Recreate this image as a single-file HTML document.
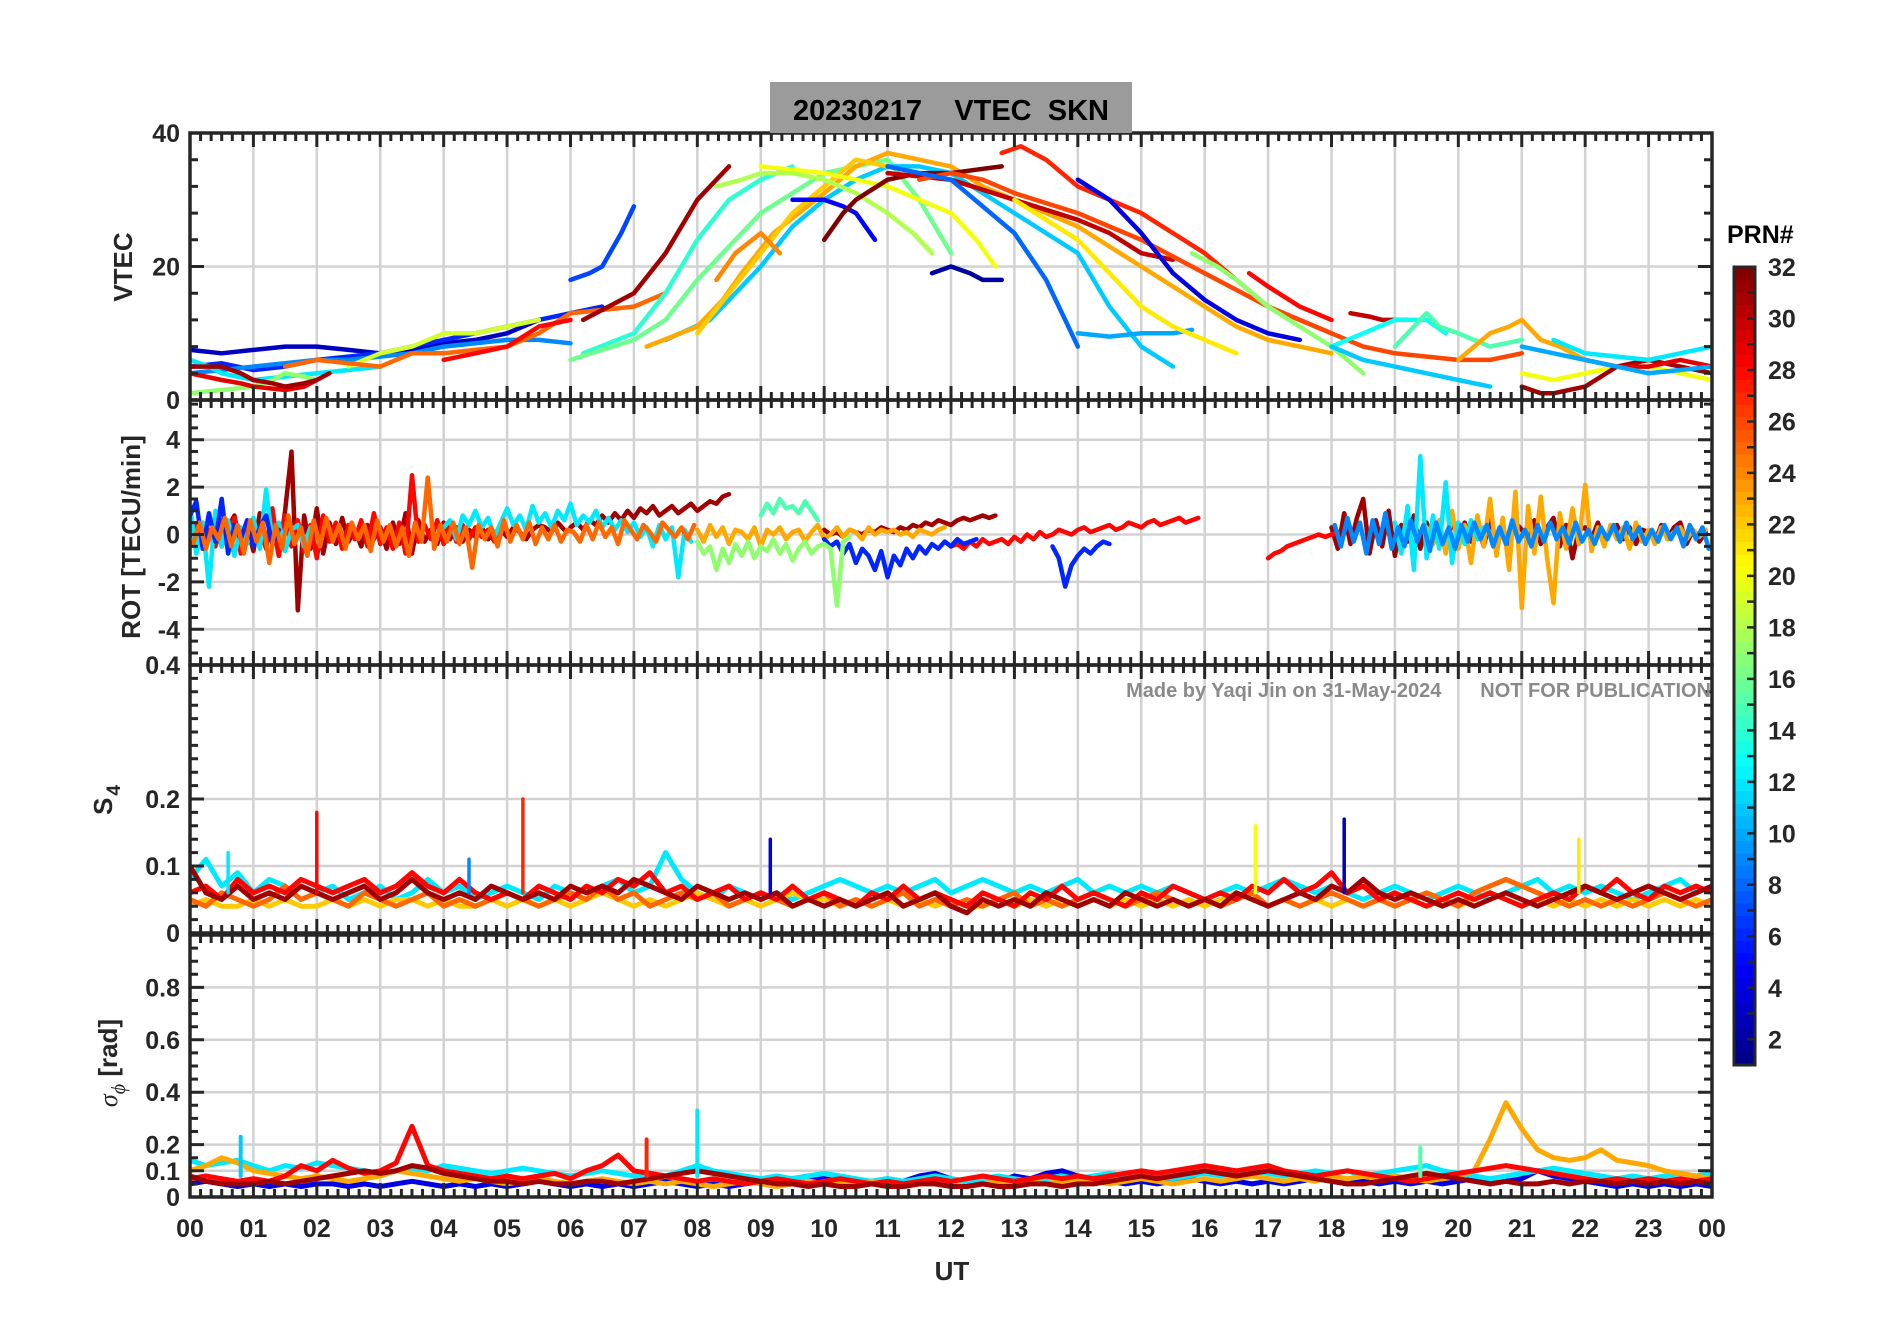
<!DOCTYPE html>
<html><head><meta charset="utf-8">
<style>
html,body{margin:0;padding:0;background:#fff;}
svg{display:block;font-family:"Liberation Sans",sans-serif;}
</style></head>
<body>
<svg id="chart" width="1902" height="1330" viewBox="0 0 1902 1330" xmlns="http://www.w3.org/2000/svg">
<rect x="0" y="0" width="1902" height="1330" fill="#fff"/>
<defs>
<clipPath id="c0"><rect x="190" y="133" width="1522" height="267"/></clipPath>
<clipPath id="c1"><rect x="190" y="400" width="1522" height="265"/></clipPath>
<clipPath id="c2"><rect x="190" y="665" width="1522" height="268"/></clipPath>
<clipPath id="c3"><rect x="190" y="935" width="1522" height="262"/></clipPath>
</defs>
<g id="grid"></g>
<g id="marks"></g>
<g id="axes"></g>
<rect x="770" y="82" width="362" height="51" fill="#9b9b9b"/>
<text x="951" y="120" text-anchor="middle" font-size="29" font-weight="bold" fill="#000" xml:space="preserve">20230217    VTEC  SKN</text>
<text x="1711" y="697" text-anchor="end" font-size="20" font-weight="bold" fill="#8a8a8a" xml:space="preserve">Made by Yaqi Jin on 31-May-2024       NOT FOR PUBLICATION</text>
<text x="952" y="1280" text-anchor="middle" font-size="26" font-weight="bold" fill="#262626">UT</text>
<text transform="translate(132,267) rotate(-90)" text-anchor="middle" font-size="26" font-weight="bold" fill="#262626">VTEC</text>
<text transform="translate(140,537) rotate(-90)" text-anchor="middle" font-size="26" font-weight="bold" fill="#262626">ROT [TECU/min]</text>
<text transform="translate(112,800) rotate(-90)" text-anchor="middle" font-size="26" font-weight="bold" fill="#262626">S<tspan font-size="19" dy="8" dx="2">4</tspan></text>
<text transform="translate(117,1063) rotate(-90)" text-anchor="middle" font-size="26" font-weight="bold" fill="#262626"><tspan font-family="Liberation Serif" font-style="italic" font-weight="normal">σ</tspan><tspan font-family="Liberation Serif" font-style="italic" font-weight="normal" font-size="20" dy="8">ϕ</tspan><tspan dy="-8"> [rad]</tspan></text>
<text x="1727" y="243" font-size="25" font-weight="bold" fill="#000">PRN#</text>
<g id="colorbar"></g>
</svg>
<script>
// ---------------- DATA ----------------
const xTickLabels = ["00","01","02","03","04","05","06","07","08","09","10","11","12","13","14","15","16","17","18","19","20","21","22","23","00"];
const vtecTicks = [0,20,40];
const rotTicks = [-4,-2,0,2,4];
const s4Ticks = [0,0.1,0.2,0.4];
const sigTicks = [0,0.1,0.2,0.4,0.6,0.8];
const prnTicks = [2,4,6,8,10,12,14,16,18,20,22,24,26,28,30,32];

// VTEC arcs: PRN list and [hour, VTEC] points
const vtecPrn = [3,6,9,12,17,19,29,31,25,28,7,31,14,16,11,23,22,24,20,18,5,32,2,30,27,26,8,4,10,21,17,28,30,13,11,15,23,20,31,29,10,12];
const vtecArcs = [
 [[0,7.5],[0.5,7],[1,7.5],[1.5,8],[2,8],[2.5,7.5],[3,7],[3.5,7.5],[4,8.5],[4.5,9],[5,10],[5.5,12]],
 [[0,5],[0.5,5.5],[1,4.5],[1.5,5],[2,6],[2.5,6.5],[3,7],[3.5,8],[4,9],[4.5,10],[5,11],[5.5,12],[6,13],[6.5,14]],
 [[0,4],[0.5,4.5],[1,5],[1.5,5.5],[2,6],[2.5,6],[3,6.5],[3.5,7],[4,8],[4.5,8.5],[5,9],[5.5,9],[6,8.5]],
 [[0,6],[0.3,5],[0.5,4],[1,3],[1.5,3.5],[2,4],[2.5,4.5],[3,5]],
 [[0,1],[0.5,1.5],[1,2],[1.3,3],[1.5,4],[1.8,3.5],[2,3]],
 [[2.5,5],[3,7],[3.5,8],[4,10],[4.5,10],[5,11],[5.5,12]],
 [[0,4],[0.5,3],[0.8,2.5],[1,2],[1.5,1.5],[1.8,2],[2,3]],
 [[0,5],[0.5,5],[0.8,4],[1,3],[1.3,2.5],[1.5,2],[1.8,2.5],[2,3],[2.2,4]],
 [[1.5,5],[2,6],[2.5,5.5],[3,5],[3.5,7],[4,7],[4.5,7.5],[5,8],[5.5,10],[6,13],[6.5,13.5],[7,14],[7.5,16]],
 [[4,6],[4.5,7],[5,8],[5.5,11],[6,12]],
 [[6,18],[6.3,19],[6.5,20],[6.8,25],[7,29]],
 [[6.2,12],[6.6,14],[7,16],[7.5,22],[8,30],[8.5,35]],
 [[6.2,7],[6.6,8.5],[7,10],[7.5,16],[8,24],[8.5,30],[9,33],[9.5,35]],
 [[6,6],[6.5,7.5],[7,9],[7.5,12],[8,18],[8.5,23],[9,28],[9.5,31],[10,34],[10.5,35],[11,36],[11.5,30],[12,22]],
 [[7.5,9],[8.2,12],[8.6,16],[9,20],[9.5,26],[10,30],[10.5,33],[11,35],[11.5,35],[12,34],[12.5,31],[13,28],[13.5,25],[14,22],[14.5,14],[15,8],[15.5,5]],
 [[7.2,8],[7.6,9.5],[8,11],[8.4,15],[8.7,19],[9.2,25],[9.6,28],[10,31],[10.5,35],[11,37],[11.5,36],[12,35],[12.5,32],[13,30],[13.5,28],[14,26],[14.5,23],[15,20],[15.5,17],[16,14],[16.5,11],[17,9],[17.5,8],[18,7]],
 [[8,10],[8.5,16],[9,22],[9.5,28],[10,32],[10.5,36],[11,35]],
 [[8.3,18],[8.6,22],[9,25],[9.3,22]],
 [[9,35],[9.5,34.5],[10,34],[10.5,33],[11,32],[11.5,30],[12,28],[12.4,24],[12.7,20]],
 [[8.3,32],[8.7,33],[9,34],[9.5,34],[10,33],[10.5,31],[11,28],[11.4,25],[11.7,22]],
 [[9.5,30],[10,30],[10.3,29],[10.5,28],[10.8,24]],
 [[10,24],[10.3,28],[10.5,30],[11,33],[11.5,34],[12,34],[12.4,34.5],[12.8,35]],
 [[11.7,19],[12,20],[12.3,19],[12.5,18],[12.8,18]],
 [[11,34],[11.5,33.5],[12,33],[12.5,31.5],[13,30],[13.5,28.5],[14,27],[14.5,25],[15,22],[15.5,21]],
 [[12.8,37],[13.1,38],[13.5,36],[14,32],[14.5,30],[15,28],[15.5,25],[16,22],[16.5,18],[17,14],[17.5,12],[18,10]],
 [[11.5,33],[12,34],[12.5,33],[13,31],[13.5,29.5],[14,28],[14.5,26],[15,24],[15.5,21.5],[16,19],[16.5,16.5],[17,14],[17.5,12],[18,10],[18.5,8],[19,7],[19.5,6.5],[20,6],[20.5,6],[21,7]],
 [[11,35],[11.5,34],[12,33],[12.5,29],[13,25],[13.5,18],[13.8,12],[14,8]],
 [[14,33],[14.5,30],[15,25],[15.5,19],[16,15],[16.5,12],[17,10],[17.5,9]],
 [[14,10],[14.5,9.5],[15,10],[15.5,10],[15.8,10.5]],
 [[13,30],[13.5,27],[14,24],[14.5,19],[15,14],[15.5,11],[16,9],[16.5,7]],
 [[15.8,22],[16.2,20],[16.5,18],[17,14],[17.5,11],[18,8],[18.5,4]],
 [[16.7,19],[17,17],[17.5,14],[18,12]],
 [[18.3,13],[18.6,12.5],[18.8,12],[19.2,12]],
 [[18,8],[18.5,10],[19,12],[19.5,12],[19.8,10]],
 [[18,8],[18.5,6],[19,5],[19.5,4],[20,3],[20.5,2]],
 [[19,8],[19.3,11],[19.5,13],[19.7,11],[20,10],[20.5,8],[21,9]],
 [[20,6],[20.5,10],[20.8,11],[21,12],[21.3,9],[21.6,8],[22,6]],
 [[21,4],[21.5,3],[22,4],[22.5,5],[23,5],[23.5,4],[24,3]],
 [[21,2],[21.3,1],[21.5,1],[22,2],[22.5,5],[23,6],[23.5,5],[24,4]],
 [[22,6],[22.5,5],[23,5],[23.5,6],[24,5]],
 [[21,8],[21.5,7],[22,6],[22.5,5],[23,4],[23.5,4.5],[24,5]],
 [[21.5,9],[22,7],[22.5,6.5],[23,6],[23.5,7],[24,8]]
];

// ROT segments: PRN, start hour, step 0.1 h values
const rotPrn = [31,31,31,31,28,28,28,23,23,12,12,12,6,6,6,17,15,25,9];
const rotStart = [0,6,10,18,0,12,17,8,19.5,0,4,19,10,13.6,0,8,9,0.05,18.05];
const rotVals = [
 [0.2,-0.3,0.5,-0.2,0.6,-0.5,0.3,0.8,-0.6,0.4,-0.7,0.9,-0.4,0.6,-0.9,1.0,3.5,-3.2,0.8,-0.6,1.1,-0.8,0.5,-0.4,0.7,-0.3,0.2,-0.5,0.4,-0.2,0.3,-0.6,0.5,-0.4,0.9,-0.8,0.6,-0.3,0.2,-0.4,0.5,-0.2,0.3,-0.3,0.2,-0.1,0.3,-0.2,0.1,0.2,-0.1,0.3,0.1,-0.2,0.2,0.4,0.3,0.1,0.5,0.2],
 [0.3,0.5,0.2,0.6,0.4,0.8,0.5,0.9,0.6,1.0,0.7,1.1,0.9,1.2,0.8,1.0,1.2,0.9,1.1,1.3,1.0,1.2,1.4,1.3,1.6,1.7],
 [0.2,0.0,0.1,-0.1,0.2,0.1,0.0,0.2,0.1,0.3,0.2,0.1,0.3,0.2,0.4,0.3,0.5,0.4,0.6,0.5,0.4,0.6,0.7,0.6,0.7,0.8,0.7,0.8],
 [0.3,-0.6,0.9,-0.4,0.7,1.5,-0.8,0.6,-0.5,1.0,-0.9,0.4,-0.3,0.8,-0.6,0.5,-0.4,0.3,-0.7,0.6,-0.2,0.5,-0.3,0.4,-0.5,0.6,-0.2,0.3,-0.4,0.5,0.2,-0.3,0.6,-0.4,0.3,0.7,-0.5,0.4,-1.0,0.2,0.3,-0.2,0.5,-0.3,0.2,0.4,-0.2,0.3,-0.4,0.2,0.1,-0.3,0.4,-0.2,0.3,0.5,-0.4,0.2,-0.3,0.1],
 [0.1,0.4,-0.3,0.2,-0.5,0.6,-0.2,0.7,-0.8,0.5,-0.4,0.3,-0.6,1.1,-0.9,0.8,-0.5,0.6,-0.7,0.4,-1.0,0.8,-0.3,0.5,-0.6,0.4,-0.2,0.6,-0.5,0.9,-0.4,0.3,-0.6,0.5,-0.8,2.5,-0.3,0.4,-0.2,0.6,-0.4,0.5,-0.3,0.4,-0.2,0.3,-0.1,0.2,-0.3,0.4],
 [-0.5,-0.4,-0.6,-0.3,-0.5,-0.2,-0.4,-0.3,-0.2,-0.4,-0.1,-0.3,0.0,-0.2,0.1,-0.1,0.0,0.2,0.1,0.0,0.2,0.3,0.1,0.2,0.3,0.4,0.2,0.3,0.5,0.4,0.3,0.5,0.6,0.4,0.5,0.6,0.7,0.5,0.6,0.7],
 [-1.0,-0.8,-0.7,-0.5,-0.4,-0.3,-0.2,-0.1,0.0,-0.1,0.0,0.1],
 [0.2,-0.3,0.4,-0.1,0.3,-0.4,0.2,0.1,-0.2,0.3,-0.5,0.2,0.0,0.3,-0.2,0.1,0.2,-0.3,0.1,0.4,-0.2,0.0,0.3,-0.1,0.2,0.1,-0.2,0.3,0.0,0.2,0.1,0.2,0.0,0.1,-0.1,0.2,0.1,0.0,0.2,0.3],
 [0.3,-0.4,0.6,-0.8,1.0,-0.6,0.4,-1.2,0.8,-0.5,1.5,-0.9,0.7,-1.5,1.8,-3.1,1.2,-0.8,1.6,-1.0,-2.9,0.9,-0.6,1.1,-0.4,2.1,-0.7,0.3,-0.5,0.4,-0.2,0.3,-0.6,0.5,-0.3,0.2,-0.4,0.3,-0.2,0.1,0.3,-0.2,0.2,-0.1,0.2],
 [1.2,-0.8,0.5,-2.2,1.0,-0.5,0.6,-0.9,0.3,-0.4,0.7,-0.6,1.9,-0.3,0.5,-0.7,0.2,0.4,-0.5,0.3],
 [0.3,0.6,-0.2,0.8,0.4,1.0,0.3,0.7,-0.1,0.5,1.1,0.4,0.8,0.2,1.2,0.5,0.9,0.3,1.0,0.6,1.3,0.4,0.8,0.5,1.0,0.3,0.7,0.2,0.6,0.1,0.5,-0.1,0.3,-0.5,0.4,-0.2,0.3,-1.8,0.2,-0.3],
 [0.5,-0.8,1.2,-1.5,3.3,-1.0,0.8,-0.6,2.2,-1.2,0.5,-0.4,0.6,-0.2,0.3],
 [-0.2,-0.5,-0.3,-0.8,-0.4,-1.2,-0.6,-0.9,-1.5,-0.7,-1.8,-0.9,-1.3,-0.6,-1.0,-0.5,-0.8,-0.4,-0.6,-0.3,-0.5,-0.2,-0.4,-0.3,-0.2],
 [-0.5,-1.0,-2.2,-1.3,-0.9,-0.6,-0.8,-0.5,-0.3,-0.4],
 [0.8,1.4,-0.6,0.9,-0.3,1.5,-0.8,0.4,-0.2,0.6,-0.5,0.3,0.8,-0.4,0.2],
 [-0.3,-0.8,-0.5,-1.5,-0.6,-1.2,-0.4,-0.9,-0.3,-1.0,-0.5,-0.7,-0.2,-0.8,-0.4,-1.1,-0.6,-0.3,-0.8,-0.5,-0.4,-0.6,-3.0,-0.3,-0.1],
 [0.8,1.3,0.9,1.5,1.1,1.2,0.9,1.4,1.0,0.6],
 [-0.4,0.5,-0.6,0.3,-0.2,0.7,-0.5,0.4,-0.8,0.6,-0.3,0.5,-1.2,0.4,-0.6,0.8,-0.4,0.3,-0.9,0.6,-0.5,0.7,-0.3,0.4,-0.6,0.5,-0.2,0.4,-0.7,0.6,-0.3,0.4,-0.5,0.3,-0.9,0.5,-0.3,2.4,-0.6,0.4,-0.3,0.5,-0.4,0.3,-1.4,0.4,-0.2,0.3,-0.5,0.6,-0.3,0.4,-0.2,0.5,-0.4,0.3,-0.2,0.4,-0.3,0.2,0.1,-0.3,0.4,-0.2,0.5,-0.1,0.3,-0.4,0.6,0.2,-0.2,0.4,0.1,-0.3,0.5,0.2,-0.1,0.3,-0.2,0.4],
 [0.4,-0.5,0.7,-0.3,0.5,-0.8,0.6,-0.4,0.9,-0.6,0.3,-0.5,0.6,-0.3,0.4,-0.7,0.5,-0.4,0.3,-0.6,0.4,-0.3,0.5,-0.2,0.4,-0.5,0.3,-0.4,0.6,-0.3,0.2,-0.5,0.4,-0.3,0.5,-0.2,0.3,-0.4,0.5,-0.3,0.2,-0.4,0.3,-0.2,0.4,-0.3,0.5,-0.2,0.3,-0.4,0.2,-0.3,0.4,-0.2,0.3,-0.5,0.4,-0.2,0.3,-0.6]
];

// S4 series: PRN, values every 0.25 h from 00 UT
const s4Prn = [12,22,25,28,31];
const s4Vals = [
 [0.08,0.11,0.07,0.09,0.06,0.08,0.07,0.05,0.06,0.07,0.05,0.06,0.07,0.05,0.06,0.08,0.06,0.07,0.05,0.06,0.07,0.06,0.05,0.07,0.06,0.05,0.07,0.08,0.06,0.07,0.12,0.08,0.06,0.05,0.07,0.06,0.05,0.06,0.05,0.06,0.07,0.08,0.07,0.06,0.07,0.06,0.07,0.08,0.06,0.07,0.08,0.07,0.06,0.07,0.06,0.07,0.08,0.06,0.07,0.06,0.07,0.06,0.07,0.06,0.05,0.06,0.07,0.06,0.07,0.08,0.07,0.06,0.07,0.06,0.05,0.06,0.07,0.06,0.05,0.06,0.07,0.06,0.05,0.06,0.07,0.08,0.06,0.07,0.06,0.07,0.06,0.05,0.06,0.07,0.08,0.06,0.07],
 [0.04,0.05,0.04,0.04,0.05,0.04,0.05,0.04,0.04,0.05,0.04,0.05,0.04,0.05,0.05,0.04,0.05,0.04,0.04,0.05,0.04,0.05,0.04,0.05,0.04,0.05,0.06,0.05,0.04,0.05,0.04,0.05,0.06,0.05,0.04,0.05,0.04,0.05,0.06,0.05,0.05,0.04,0.05,0.04,0.05,0.04,0.05,0.04,0.05,0.04,0.04,0.05,0.04,0.05,0.04,0.05,0.04,0.05,0.04,0.05,0.04,0.05,0.04,0.05,0.04,0.05,0.06,0.05,0.04,0.05,0.04,0.05,0.04,0.05,0.04,0.05,0.04,0.05,0.04,0.05,0.04,0.05,0.06,0.05,0.04,0.05,0.04,0.05,0.04,0.05,0.04,0.05,0.04,0.05,0.04,0.05,0.04],
 [0.05,0.04,0.06,0.05,0.04,0.05,0.07,0.05,0.06,0.05,0.04,0.06,0.05,0.04,0.05,0.06,0.04,0.05,0.04,0.05,0.06,0.05,0.04,0.05,0.06,0.05,0.07,0.05,0.06,0.04,0.05,0.06,0.05,0.06,0.04,0.05,0.06,0.05,0.04,0.05,0.06,0.04,0.05,0.04,0.05,0.06,0.04,0.05,0.04,0.05,0.04,0.05,0.06,0.04,0.05,0.04,0.05,0.06,0.05,0.04,0.05,0.06,0.05,0.04,0.05,0.04,0.05,0.06,0.04,0.05,0.04,0.05,0.06,0.05,0.04,0.05,0.04,0.05,0.06,0.05,0.04,0.06,0.07,0.08,0.07,0.06,0.05,0.04,0.05,0.04,0.05,0.04,0.05,0.06,0.05,0.04,0.05],
 [0.06,0.07,0.05,0.08,0.06,0.07,0.06,0.08,0.07,0.06,0.07,0.08,0.06,0.07,0.09,0.07,0.06,0.08,0.06,0.05,0.06,0.05,0.07,0.06,0.05,0.07,0.06,0.08,0.07,0.09,0.06,0.07,0.05,0.06,0.07,0.05,0.06,0.05,0.07,0.05,0.06,0.05,0.04,0.06,0.05,0.07,0.05,0.06,0.05,0.04,0.06,0.05,0.04,0.06,0.05,0.07,0.05,0.06,0.05,0.04,0.06,0.05,0.07,0.06,0.05,0.06,0.05,0.07,0.06,0.08,0.06,0.07,0.09,0.06,0.07,0.05,0.06,0.05,0.04,0.05,0.06,0.05,0.06,0.05,0.04,0.05,0.06,0.05,0.07,0.06,0.08,0.06,0.05,0.07,0.06,0.07,0.06],
 [0.1,0.06,0.05,0.07,0.05,0.06,0.05,0.07,0.06,0.05,0.06,0.07,0.05,0.06,0.08,0.06,0.05,0.06,0.05,0.07,0.06,0.05,0.06,0.05,0.07,0.06,0.07,0.06,0.08,0.07,0.06,0.05,0.07,0.06,0.05,0.06,0.05,0.06,0.04,0.05,0.04,0.05,0.04,0.05,0.06,0.04,0.05,0.06,0.04,0.03,0.05,0.04,0.05,0.04,0.06,0.05,0.04,0.05,0.04,0.06,0.05,0.04,0.05,0.04,0.05,0.04,0.06,0.05,0.04,0.05,0.06,0.05,0.07,0.06,0.08,0.06,0.05,0.06,0.05,0.04,0.05,0.04,0.05,0.06,0.05,0.04,0.05,0.06,0.07,0.06,0.05,0.06,0.07,0.06,0.05,0.06,0.07]
];
const s4SpikeHour = [2.0,5.25,9.15,16.8,18.2,21.9,0.6,4.4];
const s4SpikeVal = [0.18,0.2,0.14,0.16,0.17,0.14,0.12,0.11];
const s4SpikePrn = [28,27,4,20,3,21,12,9];

// sigma-phi series: PRN, values every 0.25 h from 00 UT
const sigPrn = [4,12,23,28,31];
const sigVals = [
 [0.05,0.06,0.05,0.04,0.05,0.04,0.05,0.04,0.05,0.05,0.04,0.05,0.04,0.05,0.06,0.05,0.04,0.05,0.04,0.05,0.04,0.05,0.06,0.05,0.04,0.05,0.04,0.05,0.04,0.05,0.06,0.05,0.04,0.05,0.04,0.05,0.06,0.05,0.07,0.08,0.07,0.06,0.05,0.06,0.07,0.06,0.08,0.09,0.07,0.06,0.05,0.06,0.08,0.07,0.09,0.1,0.08,0.07,0.06,0.05,0.06,0.05,0.06,0.07,0.06,0.05,0.06,0.05,0.06,0.05,0.06,0.07,0.06,0.05,0.06,0.05,0.06,0.05,0.06,0.05,0.06,0.07,0.05,0.06,0.07,0.1,0.08,0.07,0.06,0.05,0.04,0.05,0.04,0.05,0.04,0.05,0.04],
 [0.14,0.12,0.13,0.14,0.12,0.1,0.12,0.11,0.13,0.12,0.11,0.1,0.09,0.1,0.11,0.1,0.12,0.11,0.1,0.09,0.1,0.11,0.1,0.09,0.08,0.09,0.1,0.09,0.08,0.09,0.08,0.1,0.12,0.1,0.09,0.08,0.07,0.08,0.07,0.08,0.09,0.08,0.07,0.06,0.07,0.06,0.07,0.08,0.07,0.06,0.07,0.08,0.07,0.06,0.07,0.08,0.07,0.08,0.09,0.08,0.07,0.08,0.07,0.08,0.09,0.08,0.09,0.1,0.09,0.08,0.09,0.1,0.09,0.1,0.08,0.09,0.1,0.11,0.12,0.1,0.09,0.08,0.07,0.08,0.09,0.1,0.11,0.1,0.09,0.08,0.07,0.08,0.07,0.08,0.09,0.08,0.09],
 [0.1,0.12,0.15,0.13,0.1,0.09,0.08,0.07,0.08,0.07,0.06,0.07,0.08,0.1,0.09,0.08,0.07,0.06,0.07,0.06,0.05,0.06,0.07,0.06,0.05,0.06,0.07,0.06,0.05,0.06,0.05,0.06,0.05,0.04,0.05,0.06,0.05,0.04,0.05,0.06,0.05,0.06,0.05,0.06,0.05,0.04,0.05,0.06,0.05,0.04,0.05,0.06,0.05,0.06,0.05,0.06,0.07,0.06,0.05,0.06,0.07,0.06,0.05,0.06,0.07,0.06,0.07,0.08,0.07,0.06,0.07,0.06,0.08,0.07,0.08,0.07,0.08,0.07,0.06,0.07,0.08,0.1,0.22,0.36,0.26,0.18,0.15,0.14,0.15,0.18,0.14,0.13,0.12,0.1,0.09,0.08,0.07],
 [0.07,0.08,0.07,0.06,0.07,0.06,0.08,0.12,0.1,0.14,0.11,0.09,0.1,0.13,0.27,0.12,0.1,0.09,0.08,0.07,0.08,0.07,0.08,0.09,0.07,0.1,0.12,0.16,0.1,0.09,0.08,0.07,0.06,0.07,0.06,0.05,0.06,0.07,0.06,0.05,0.06,0.07,0.06,0.05,0.06,0.05,0.06,0.07,0.06,0.07,0.08,0.07,0.06,0.07,0.08,0.07,0.08,0.07,0.08,0.09,0.1,0.09,0.1,0.11,0.12,0.11,0.1,0.11,0.12,0.1,0.09,0.08,0.09,0.1,0.09,0.08,0.07,0.06,0.07,0.08,0.09,0.1,0.11,0.12,0.11,0.1,0.09,0.08,0.07,0.06,0.07,0.06,0.07,0.06,0.07,0.06,0.07],
 [0.08,0.06,0.05,0.05,0.05,0.06,0.05,0.06,0.07,0.08,0.09,0.1,0.09,0.1,0.12,0.11,0.09,0.08,0.07,0.06,0.06,0.05,0.06,0.05,0.05,0.06,0.06,0.05,0.06,0.07,0.08,0.09,0.1,0.09,0.08,0.07,0.06,0.05,0.05,0.04,0.05,0.04,0.04,0.05,0.04,0.04,0.05,0.05,0.04,0.04,0.05,0.04,0.04,0.05,0.05,0.04,0.05,0.05,0.06,0.07,0.08,0.07,0.08,0.09,0.1,0.09,0.08,0.09,0.1,0.09,0.08,0.07,0.06,0.05,0.05,0.06,0.07,0.08,0.09,0.08,0.07,0.06,0.05,0.06,0.05,0.05,0.06,0.05,0.06,0.06,0.05,0.06,0.05,0.06,0.05,0.06,0.05]
];
const sigSpikeHour = [8.0,7.2,19.4,0.8];
const sigSpikeVal = [0.33,0.22,0.19,0.23];
const sigSpikePrn = [12,27,15,11];

// ---------------- RENDER ----------------
const NS = "http://www.w3.org/2000/svg";
const X0 = 190, X1 = 1712;
const xs = h => X0 + (X1 - X0) * h / 24;
const yV = v => 400 - v * (267 / 40);
const yR = v => 534.5 - v * 23.7;
const yS = v => 933 - v * 670;
const yG = v => 1197 - v * 262;
const panels = [
 {top:133,bot:400,y:yV,ticks:vtecTicks,minor:4,lo:0,hi:40,clip:"c0",name:"vtec"},
 {top:400,bot:665,y:yR,ticks:rotTicks,minor:0.5,lo:-5.5,hi:5.6,clip:"c1",name:"rot"},
 {top:665,bot:933,y:yS,ticks:s4Ticks,minor:0.02,lo:0,hi:0.4,clip:"c2",name:"s4"},
 {top:935,bot:1197,y:yG,ticks:sigTicks,minor:0.05,lo:0,hi:1,clip:"c3",name:"sigma-phi"}
];
function jet(t){
  const c = v => Math.round(255*Math.max(0,Math.min(1,v)));
  return `rgb(${c(1.5-Math.abs(4*t-3))},${c(1.5-Math.abs(4*t-2))},${c(1.5-Math.abs(4*t-1))})`;
}
const prnColor = p => jet((p - 1) / 31);
function mk(tag, attrs, parent){
  const e = document.createElementNS(NS, tag);
  for (const k in attrs) e.setAttribute(k, attrs[k]);
  parent.appendChild(e); return e;
}
const grid = document.getElementById('grid');
const marks = document.getElementById('marks');
const axes = document.getElementById('axes');

panels.forEach(p => {
  for (let h = 1; h < 24; h++) {
    const l = mk('line',{x1:xs(h),x2:xs(h),y1:p.top,y2:p.bot,stroke:'#d2d2d2','stroke-width':2.5},grid);
    
    
  }
  p.ticks.forEach(v => {
    const y = p.y(v);
    if (y > p.top + 2 && y < p.bot - 2) {
      const l = mk('line',{x1:X0,x2:X1,y1:y,y2:y,stroke:'#d2d2d2','stroke-width':2.5},grid);
      
      
    }
  });
});

function poly(pts, color, clip, w, name){
  const e = mk('polyline',{points:pts.map(q=>q[0].toFixed(1)+','+q[1].toFixed(1)).join(' '),fill:'none',stroke:color,'stroke-width':w,'stroke-linejoin':'round','stroke-linecap':'round','clip-path':'url(#'+clip+')'},marks);
  
  
}
vtecArcs.forEach((arc,i) => poly(arc.map(q=>[xs(q[0]),yV(q[1])]), prnColor(vtecPrn[i]), 'c0', 4.5, 'vtec-arc-prn'+vtecPrn[i]));
rotVals.forEach((vals,i) => poly(vals.map((v,j)=>[xs(rotStart[i]+j*0.1),yR(v)]), prnColor(rotPrn[i]), 'c1', 4.5, 'rot-series-prn'+rotPrn[i]));
s4Vals.forEach((vals,i) => poly(vals.map((v,j)=>[xs(j*0.25),yS(v)]), prnColor(s4Prn[i]), 'c2', 5, 's4-series-prn'+s4Prn[i]));
s4SpikeHour.forEach((h,i) => poly([[xs(h),yS(0.06)],[xs(h),yS(s4SpikeVal[i])]], prnColor(s4SpikePrn[i]), 'c2', 3.5, 's4-spike'));
sigVals.forEach((vals,i) => poly(vals.map((v,j)=>[xs(j*0.25),yG(v)]), prnColor(sigPrn[i]), 'c3', 5, 'sigma-series-prn'+sigPrn[i]));
sigSpikeHour.forEach((h,i) => poly([[xs(h),yG(0.08)],[xs(h),yG(sigSpikeVal[i])]], prnColor(sigSpikePrn[i]), 'c3', 4, 'sigma-spike'));

// axes, ticks, labels
const AX = '#262626';
panels.forEach(p => {
  const f = mk('rect',{x:X0,y:p.top,width:X1-X0,height:p.bot-p.top,fill:'none',stroke:AX,'stroke-width':3.5},axes);
  
  
  let d = '';
  for (let k = 0; k <= 144; k++) {
    const x = xs(k/6), L = (k % 6 === 0) ? 14 : 8;
    d += `M${x},${p.top}v${L}M${x},${p.bot}v${-L}`;
  }
  const n0 = Math.ceil(p.lo / p.minor - 1e-9), n1 = Math.floor(p.hi / p.minor + 1e-9);
  for (let k = n0; k <= n1; k++) {
    const v = k * p.minor, y = p.y(v);
    if (y < p.top - 1 || y > p.bot + 1) continue;
    const major = p.ticks.some(t => Math.abs(t - v) < 1e-6);
    const L = major ? 14 : 8;
    d += `M${X0},${y}h${L}M${X1},${y}h${-L}`;
  }
  const t = mk('path',{d:d,stroke:AX,'stroke-width':3,fill:'none'},axes);
  
  
  p.ticks.forEach(v => {
    const tx = mk('text',{x:180,y:p.y(v)+9,'text-anchor':'end','font-size':25,'font-weight':'bold',fill:AX},axes);
    tx.textContent = String(v);
    
    
  });
});
xTickLabels.forEach((lab,i) => {
  const tx = mk('text',{x:xs(i),y:1237,'text-anchor':'middle','font-size':25,'font-weight':'bold',fill:AX},axes);
  tx.textContent = lab;
  
  
});

// colorbar
const cb = document.getElementById('colorbar');
const CBX = 1734, CBW = 21, CBT = 267, CBB = 1065;
const yC = v => CBB - (v - 1) / 31 * (CBB - CBT);
for (let k = 0; k < 64; k++) {
  const v0 = 1 + k * 31/64, v1 = 1 + (k+1) * 31/64;
  const r = mk('rect',{x:CBX,y:yC(v1),width:CBW,height:yC(v0)-yC(v1)+0.6,fill:jet((k+0.5)/64)},cb);
  
  
}
const cf = mk('rect',{x:CBX,y:CBT,width:CBW,height:CBB-CBT,fill:'none',stroke:AX,'stroke-width':3},cb);


let cd = '';
for (let v = 1; v <= 32; v++) { const y = yC(v); cd += `M${CBX+CBW},${y}h-8`; }
const ct = mk('path',{d:cd,stroke:AX,'stroke-width':2.5},cb);


prnTicks.forEach(v => {
  const tx = mk('text',{x:1768,y:yC(v)+9,'font-size':25,'font-weight':'bold',fill:AX},cb);
  tx.textContent = String(v);
  
  
});
</script>
</body></html>
